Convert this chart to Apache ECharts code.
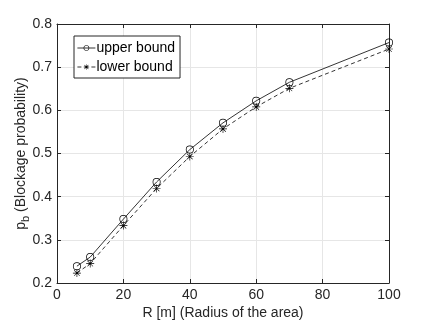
<!DOCTYPE html>
<html lang="en">
<head>
    <meta charset="UTF-8" />
    <title>Blockage probability</title>
    <script src="https://cdn.jsdelivr.net/npm/echarts@6/dist/echarts.min.js"></script>
    <style>
        html, body { margin: 0; padding: 0; background: #fff; }
        #main { width: 436px; height: 327px; }
    </style>
</head>
<body>
    <div id="main"></div>
    <script>
        // radius values (x) and the two bounds
        const radius = [6, 10, 20, 30, 40, 50, 60, 70, 100];
        const upperBound = [0.239, 0.260, 0.348, 0.434, 0.509, 0.571, 0.622, 0.665, 0.757];
        const lowerBound = [0.223, 0.245, 0.333, 0.419, 0.493, 0.557, 0.608, 0.651, 0.742];
        const seriesNames = ['upper bound', 'lower bound'];

        const axisColor = '#262626';
        const font = 'Liberation Sans';

        // asterisk marker built from four thin bars
        const star = 'path://M-0.4,-5L0.4,-5L0.4,5L-0.4,5Z' +
            'M-5,-0.4L5,-0.4L5,0.4L-5,0.4Z' +
            'M-3.25,-3.8L3.8,3.25L3.25,3.8L-3.8,-3.25Z' +
            'M3.8,-3.25L-3.25,3.8L-3.8,3.25L3.25,-3.8Z';
        // thin ring for the open circle marker
        const ring = 'path://M0,-5A5,5 0 1,1 0,5A5,5 0 1,1 0,-5Z' +
            'M0,-4.1A4.1,4.1 0 1,0 0,4.1A4.1,4.1 0 1,0 0,-4.1Z';

        const pairs = (xs, ys) => xs.map((x, i) => [x, ys[i]]);

        const chart = echarts.init(document.getElementById('main'));

        const baseAxis = {
            axisLine: { show: true, onZero: false, lineStyle: { color: axisColor, width: 1 } },
            axisTick: { show: true, inside: true, length: 4, lineStyle: { color: axisColor } },
            axisLabel: { color: axisColor, fontFamily: font, fontSize: 14 }
        };

        const option = {
            animation: false,
            textStyle: { fontFamily: font },
            grid: { left: 57, right: 47, top: 24, bottom: 44 },
            legend: {
                orient: 'vertical',
                left: 74,
                top: 36,
                padding: [5, 5, 4, 3],
                itemGap: 5,
                itemWidth: 18,
                itemHeight: 7,
                borderColor: axisColor,
                borderWidth: 1,
                backgroundColor: '#fff',
                lineStyle: { width: 0.8 },
                textStyle: { color: '#000', fontFamily: font, fontSize: 14, padding: [0, 0, 0, -4] },
                data: seriesNames
            },
            xAxis: [
                Object.assign({}, baseAxis, {
                    type: 'value', min: 0, max: 100, interval: 20, position: 'bottom',
                    axisLabel: Object.assign({}, baseAxis.axisLabel, { margin: 5 }),
                    splitLine: { show: true, lineStyle: { color: '#e6e6e6' } },
                    name: 'R [m] (Radius of the area)',
                    nameLocation: 'middle',
                    nameGap: 23,
                    nameMoveOverlap: false,
                    nameTextStyle: { color: axisColor, fontFamily: font, fontSize: 14 }
                }),
                Object.assign({}, baseAxis, {
                    type: 'value', min: 0, max: 100, interval: 20, position: 'top',
                    axisLabel: { show: false }, splitLine: { show: false }
                })
            ],
            yAxis: [
                Object.assign({}, baseAxis, {
                    type: 'value', min: 0.2, max: 0.8, interval: 0.1, position: 'left',
                    axisLabel: Object.assign({}, baseAxis.axisLabel, { margin: 5, formatter: v => v.toFixed(1) }),
                    splitLine: { show: true, lineStyle: { color: '#e6e6e6' } },
                    name: '{p|p}{sub|b}{n| (Blockage probability)}',
                    nameLocation: 'middle',
                    nameGap: 26,
                    nameMoveOverlap: false,
                    nameTextStyle: {
                        color: axisColor,
                        fontFamily: font,
                        rich: {
                            p: { fontSize: 14, color: axisColor, fontFamily: font },
                            sub: { fontSize: 11, color: axisColor, fontFamily: font, padding: [8, 0, 0, 0] },
                            n: { fontSize: 14, color: axisColor, fontFamily: font }
                        }
                    }
                }),
                Object.assign({}, baseAxis, {
                    type: 'value', min: 0.2, max: 0.8, interval: 0.1, position: 'right',
                    axisLabel: { show: false }, splitLine: { show: false }
                })
            ],
            series: [
                {
                    name: seriesNames[0],
                    type: 'line',
                    data: pairs(radius, upperBound),
                    symbol: ring,
                    symbolSize: 8,
                    lineStyle: { color: '#000', width: 0.8 },
                    itemStyle: { color: '#000' }
                },
                {
                    name: seriesNames[1],
                    type: 'line',
                    data: pairs(radius, lowerBound),
                    symbol: star,
                    symbolSize: 8,
                    lineStyle: { color: '#000', width: 0.8, type: [4, 3] },
                    itemStyle: { color: '#000' }
                }
            ]
        };

        chart.setOption(option);
    </script>
</body>
</html>
